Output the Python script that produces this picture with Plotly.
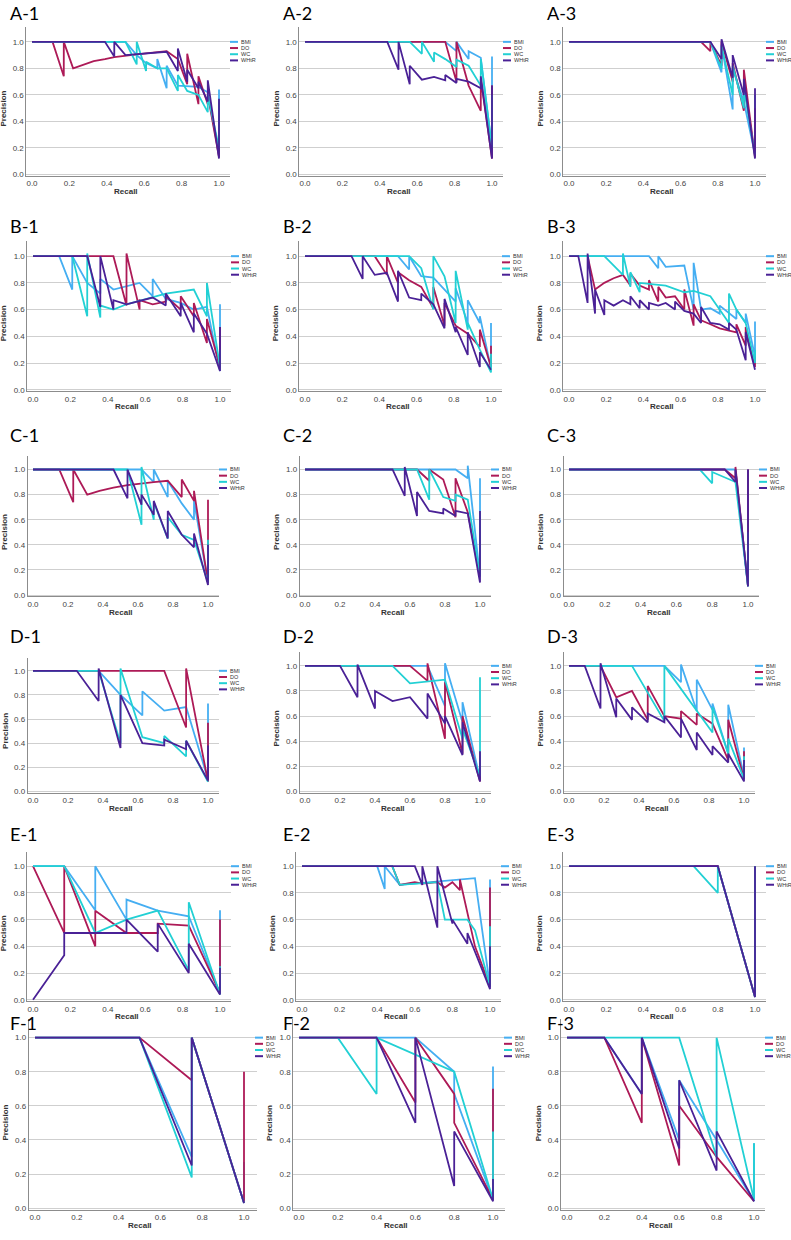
import plotly.graph_objects as go

# ---------------- data: (recall, precision) points ----------------
SERIES = ["BMI", "DO", "WC", "WHtR"]
COLORS = {"BMI": "#45AEF2", "DO": "#AD1A57", "WC": "#22D0D4", "WHtR": "#4A2196"}
TICKS = [0.0, 0.2, 0.4, 0.6, 0.8, 1.0]
TICK_TEXT = ["0.0", "0.2", "0.4", "0.6", "0.8", "1.0"]

A1 = {
    "BMI": [(0, 1), (0.5, 1), (0.56, 0.9), (0.61, 0.84), (0.67, 0.8), (0.67, 0.87), (0.72, 0.65), (0.72, 0.82),
            (0.78, 0.67), (0.89, 0.66), (0.94, 0.62), (1.0, 0.14), (1.0, 0.64)],
    "DO": [(0, 1), (0.11, 1), (0.17, 0.74), (0.17, 1.0), (0.22, 0.8), (0.28, 0.83), (0.33, 0.855), (0.39, 0.87),
           (0.44, 0.885), (0.56, 0.905), (0.72, 0.93), (0.78, 0.87), (0.83, 0.68), (0.83, 0.91), (0.89, 0.53),
           (0.89, 0.74), (0.94, 0.53), (0.94, 0.6), (1.0, 0.13), (1.0, 0.55)],
    "WC": [(0, 1), (0.5, 1), (0.56, 0.83), (0.56, 1.0), (0.61, 0.78), (0.61, 0.85), (0.67, 0.8), (0.72, 0.8),
           (0.78, 0.63), (0.78, 0.75), (0.83, 0.63), (0.89, 0.6), (0.94, 0.47), (0.94, 0.6), (1.0, 0.2), (1.0, 0.56)],
    "WHtR": [(0, 1), (0.39, 1), (0.44, 0.89), (0.44, 1.0), (0.5, 0.9), (0.61, 0.915), (0.72, 0.925), (0.78, 0.78),
             (0.78, 0.95), (0.83, 0.7), (0.83, 0.79), (0.89, 0.65), (0.89, 0.7), (0.94, 0.55), (0.94, 0.71),
             (1.0, 0.12), (1.0, 0.57)],
}
A2 = {
    "BMI": [(0, 1), (0.75, 1), (0.81, 0.93), (0.81, 1.0), (0.875, 0.87), (0.875, 0.93), (0.94, 0.88), (1.0, 0.2),
            (1.0, 0.89)],
    "DO": [(0, 1), (0.75, 1), (0.81, 0.7), (0.81, 1.0), (0.875, 0.67), (0.94, 0.48), (0.94, 0.72), (1.0, 0.12),
           (1.0, 0.67)],
    "WC": [(0, 1), (0.56, 1), (0.625, 0.91), (0.625, 1.0), (0.69, 0.85), (0.69, 0.92), (0.75, 0.87), (0.81, 0.81),
           (0.81, 0.865), (0.875, 0.82), (0.94, 0.67), (0.94, 0.87), (1.0, 0.2), (1.0, 0.6)],
    "WHtR": [(0, 1), (0.44, 1), (0.5, 0.79), (0.5, 1.0), (0.56, 0.68), (0.56, 0.82), (0.625, 0.715), (0.69, 0.735),
             (0.75, 0.71), (0.75, 0.75), (0.81, 0.69), (0.81, 0.72), (0.875, 0.7), (0.94, 0.65), (0.94, 0.74),
             (1.0, 0.12), (1.0, 0.67)],
}
A3 = {
    "BMI": [(0, 1), (0.76, 1), (0.82, 0.77), (0.82, 0.98), (0.88, 0.49), (0.88, 0.8), (0.94, 0.55), (1.0, 0.15),
            (1.0, 0.6)],
    "DO": [(0, 1), (0.71, 1), (0.76, 0.93), (0.76, 1.0), (0.82, 0.82), (0.82, 1.0), (0.88, 0.7), (0.88, 0.84),
           (0.94, 0.48), (0.94, 0.79), (1.0, 0.13), (1.0, 0.5)],
    "WC": [(0, 1), (0.76, 1), (0.82, 0.8), (0.82, 0.97), (0.88, 0.6), (0.88, 0.82), (0.94, 0.5), (0.94, 0.65),
           (1.0, 0.15)],
    "WHtR": [(0, 1), (0.76, 1), (0.82, 0.87), (0.82, 1.02), (0.88, 0.73), (0.88, 0.9), (0.94, 0.6), (0.94, 0.72),
             (1.0, 0.12), (1.0, 0.65)],
}
B1 = {
    "BMI": [(0, 1), (0.14, 1), (0.21, 0.75), (0.21, 1.0), (0.29, 0.8), (0.36, 0.72), (0.36, 0.83), (0.43, 0.75),
            (0.57, 0.8), (0.64, 0.7), (0.64, 0.83), (0.71, 0.68), (0.79, 0.65), (0.86, 0.6), (0.93, 0.62),
            (1.0, 0.14), (1.0, 0.64)],
    "DO": [(0, 1), (0.43, 1), (0.5, 0.63), (0.5, 1.02), (0.57, 0.6), (0.57, 0.67), (0.64, 0.64), (0.71, 0.66),
           (0.71, 0.7), (0.79, 0.6), (0.79, 0.7), (0.86, 0.55), (0.86, 0.65), (0.93, 0.35), (0.93, 0.53),
           (1.0, 0.17), (1.0, 0.47)],
    "WC": [(0, 1), (0.21, 1), (0.29, 0.55), (0.29, 1.02), (0.36, 0.54), (0.36, 0.63), (0.43, 0.6), (0.5, 0.64),
           (0.71, 0.72), (0.86, 0.75), (0.93, 0.55), (0.93, 0.8), (1.0, 0.17), (1.0, 0.3)],
    "WHtR": [(0, 1), (0.29, 1), (0.36, 0.62), (0.36, 1.0), (0.43, 0.6), (0.43, 0.67), (0.5, 0.64), (0.64, 0.69),
             (0.71, 0.63), (0.71, 0.72), (0.79, 0.55), (0.79, 0.65), (0.86, 0.43), (0.86, 0.57), (0.93, 0.42),
             (1.0, 0.14), (1.0, 0.47)],
}
B2 = {
    "BMI": [(0, 1), (0.5, 1), (0.56, 0.9), (0.56, 1.0), (0.625, 0.85), (0.69, 0.84), (0.81, 0.66), (0.81, 0.76),
            (0.875, 0.5), (0.875, 0.67), (0.94, 0.5), (0.94, 0.55), (1.0, 0.16), (1.0, 0.5)],
    "DO": [(0, 1), (0.375, 1), (0.44, 0.86), (0.44, 1.0), (0.5, 0.8), (0.5, 0.88), (0.56, 0.82), (0.625, 0.77),
           (0.69, 0.61), (0.69, 0.77), (0.75, 0.48), (0.75, 0.65), (0.81, 0.48), (0.875, 0.42), (0.94, 0.32),
           (0.94, 0.45), (1.0, 0.17), (1.0, 0.33)],
    "WC": [(0, 1), (0.56, 1), (0.625, 0.91), (0.69, 0.6), (0.69, 1.0), (0.75, 0.85), (0.81, 0.5), (0.81, 0.89),
           (0.875, 0.45), (0.875, 0.5), (0.94, 0.3), (1.0, 0.13), (1.0, 0.27)],
    "WHtR": [(0, 1), (0.25, 1), (0.31, 0.83), (0.31, 1.0), (0.375, 0.86), (0.44, 0.875), (0.5, 0.66), (0.5, 0.89),
             (0.56, 0.69), (0.625, 0.67), (0.625, 0.72), (0.69, 0.64), (0.75, 0.46), (0.75, 0.68), (0.81, 0.43),
             (0.81, 0.47), (0.875, 0.26), (0.875, 0.43), (0.94, 0.17), (0.94, 0.28), (1.0, 0.15)],
}
B3 = {
    "BMI": [(0, 1), (0.43, 1), (0.48, 0.91), (0.48, 1.0), (0.52, 0.92), (0.62, 0.93), (0.67, 0.6), (0.67, 0.95),
            (0.71, 0.6), (0.76, 0.61), (0.81, 0.57), (0.81, 0.63), (0.9, 0.53), (0.9, 0.6), (0.95, 0.5),
            (0.95, 0.57), (1.0, 0.25), (1.0, 0.51)],
    "DO": [(0, 1), (0.1, 1), (0.14, 0.75), (0.19, 0.8), (0.24, 0.835), (0.29, 0.86), (0.33, 0.78), (0.33, 0.87),
           (0.38, 0.78), (0.43, 0.75), (0.43, 0.82), (0.48, 0.66), (0.48, 0.77), (0.52, 0.69), (0.57, 0.7),
           (0.62, 0.6), (0.62, 0.75), (0.67, 0.48), (0.67, 0.64), (0.71, 0.52), (0.76, 0.49), (0.81, 0.46),
           (0.9, 0.43), (0.9, 0.49), (0.95, 0.33), (0.95, 0.47), (1.0, 0.17), (1.0, 0.25)],
    "WC": [(0, 1), (0.19, 1), (0.29, 0.86), (0.29, 1.02), (0.33, 0.77), (0.33, 0.88), (0.38, 0.73), (0.38, 0.8),
           (0.52, 0.78), (0.62, 0.73), (0.67, 0.74), (0.71, 0.72), (0.76, 0.7), (0.86, 0.5), (0.86, 0.72),
           (0.9, 0.6), (0.95, 0.5), (1.0, 0.2), (1.0, 0.3)],
    "WHtR": [(0, 1), (0.05, 1), (0.1, 0.65), (0.1, 1.02), (0.14, 0.57), (0.14, 0.75), (0.19, 0.56), (0.19, 0.67),
             (0.24, 0.63), (0.29, 0.67), (0.33, 0.64), (0.33, 0.7), (0.38, 0.61), (0.38, 0.67), (0.43, 0.6),
             (0.43, 0.65), (0.48, 0.63), (0.52, 0.65), (0.57, 0.6), (0.57, 0.66), (0.62, 0.59), (0.67, 0.57),
             (0.71, 0.5), (0.71, 0.62), (0.76, 0.5), (0.81, 0.49), (0.86, 0.45), (0.86, 0.5), (0.9, 0.45),
             (0.95, 0.22), (0.95, 0.43), (1.0, 0.15)],
}
C1 = {
    "BMI": [(0, 1), (0.62, 1), (0.69, 0.9), (0.69, 1.0), (0.77, 0.78), (0.77, 0.91), (0.85, 0.73), (0.92, 0.6),
            (0.92, 0.75), (1.0, 0.1), (1.0, 0.44)],
    "DO": [(0, 1), (0.15, 1), (0.23, 0.74), (0.23, 1.0), (0.31, 0.8), (0.38, 0.83), (0.46, 0.855), (0.54, 0.875),
           (0.69, 0.9), (0.77, 0.91), (0.85, 0.78), (0.85, 0.92), (0.92, 0.75), (0.92, 0.83), (1.0, 0.1),
           (1.0, 0.76)],
    "WC": [(0, 1), (0.54, 1), (0.62, 0.56), (0.62, 1.02), (0.69, 0.6), (0.69, 0.74), (0.77, 0.45), (0.77, 0.62),
           (0.85, 0.48), (0.92, 0.44), (1.0, 0.1), (1.0, 0.44)],
    "WHtR": [(0, 1), (0.46, 1), (0.54, 0.77), (0.54, 1.0), (0.62, 0.72), (0.62, 0.8), (0.69, 0.64), (0.69, 0.75),
             (0.77, 0.45), (0.77, 0.67), (0.85, 0.48), (0.92, 0.38), (0.92, 0.49), (1.0, 0.08), (1.0, 0.4)],
}
C2 = {
    "BMI": [(0, 1), (0.86, 1), (0.93, 0.93), (0.93, 1.03), (1.0, 0.15), (1.0, 0.93)],
    "DO": [(0, 1), (0.64, 1), (0.71, 0.91), (0.71, 1.0), (0.79, 0.92), (0.86, 0.62), (0.86, 0.93), (0.93, 0.66),
           (1.0, 0.15), (1.0, 0.5)],
    "WC": [(0, 1), (0.64, 1), (0.71, 0.76), (0.71, 1.0), (0.79, 0.78), (0.86, 0.75), (0.86, 0.8), (0.93, 0.76),
           (1.0, 0.15), (1.0, 0.66)],
    "WHtR": [(0, 1), (0.5, 1), (0.57, 0.79), (0.57, 1.02), (0.64, 0.63), (0.64, 0.82), (0.71, 0.67), (0.79, 0.65),
             (0.79, 0.69), (0.86, 0.63), (0.86, 0.67), (0.93, 0.65), (1.0, 0.1), (1.0, 0.67)],
}
C3 = {
    "BMI": [(0, 1), (0.93, 1), (1.0, 0.07), (1.0, 1.0)],
    "DO": [(0, 1), (0.87, 1), (0.93, 0.93), (0.93, 1.02), (1.0, 0.07), (1.0, 1.0)],
    "WC": [(0, 1), (0.73, 1), (0.8, 0.89), (0.8, 0.98), (0.93, 0.9), (1.0, 0.07), (1.0, 0.5)],
    "WHtR": [(0, 1), (0.87, 1), (0.93, 0.9), (0.93, 1.0), (1.0, 0.07), (1.0, 1.0)],
}
D1 = {
    "BMI": [(0, 1), (0.375, 1), (0.5, 0.8), (0.625, 0.63), (0.625, 0.83), (0.75, 0.67), (0.875, 0.7), (1.0, 0.1),
            (1.0, 0.73)],
    "DO": [(0, 1), (0.75, 1), (0.875, 0.53), (0.875, 1.02), (1.0, 0.08), (1.0, 0.57)],
    "WC": [(0, 1), (0.375, 1), (0.5, 0.4), (0.5, 1.02), (0.625, 0.45), (0.75, 0.4), (0.75, 0.46), (0.875, 0.29),
           (0.875, 0.42), (1.0, 0.08)],
    "WHtR": [(0, 1), (0.25, 1), (0.375, 0.75), (0.375, 1.02), (0.5, 0.36), (0.5, 0.8), (0.625, 0.4), (0.75, 0.38),
             (0.75, 0.43), (0.875, 0.35), (0.875, 0.42), (1.0, 0.09), (1.0, 0.38)],
}
D2 = {
    "BMI": [(0, 1), (0.7, 1), (0.8, 0.68), (0.8, 1.02), (0.9, 0.55), (0.9, 0.71), (1.0, 0.1), (1.0, 0.3)],
    "DO": [(0, 1), (0.6, 1), (0.7, 0.88), (0.7, 1.02), (0.8, 0.42), (0.8, 0.87), (0.9, 0.3), (0.9, 0.6),
           (1.0, 0.08), (1.0, 0.3)],
    "WC": [(0, 1), (0.5, 1), (0.6, 0.86), (0.7, 0.875), (0.8, 0.89), (0.9, 0.42), (0.9, 0.5), (1.0, 0.12),
           (1.0, 0.91)],
    "WHtR": [(0, 1), (0.2, 1), (0.3, 0.75), (0.3, 1.01), (0.4, 0.66), (0.4, 0.8), (0.5, 0.72), (0.6, 0.75),
             (0.7, 0.58), (0.7, 0.78), (0.8, 0.54), (0.8, 0.6), (0.9, 0.29), (0.9, 0.55), (1.0, 0.08), (1.0, 0.32)],
}
D3 = {
    "BMI": [(0, 1), (0.545, 1), (0.64, 0.87), (0.64, 1.01), (0.73, 0.64), (0.73, 0.89), (0.82, 0.65), (0.82, 0.7),
            (0.91, 0.3), (0.91, 0.69), (1.0, 0.12), (1.0, 0.35)],
    "DO": [(0, 1), (0.18, 1), (0.27, 0.75), (0.36, 0.8), (0.45, 0.57), (0.45, 0.84), (0.545, 0.6), (0.64, 0.58),
           (0.64, 0.64), (0.73, 0.53), (0.73, 0.62), (0.82, 0.54), (0.91, 0.25), (0.91, 0.57), (1.0, 0.1),
           (1.0, 0.32)],
    "WC": [(0, 1), (0.36, 1), (0.545, 0.56), (0.545, 1.0), (0.82, 0.47), (0.82, 0.67), (0.91, 0.3), (0.91, 0.42),
           (1.0, 0.1), (1.0, 0.28)],
    "WHtR": [(0, 1), (0.09, 1), (0.18, 0.66), (0.18, 1.02), (0.27, 0.59), (0.27, 0.74), (0.36, 0.57), (0.36, 0.67),
             (0.45, 0.55), (0.45, 0.62), (0.545, 0.55), (0.545, 0.6), (0.64, 0.43), (0.64, 0.58), (0.73, 0.33),
             (0.73, 0.47), (0.82, 0.29), (0.82, 0.36), (0.91, 0.23), (0.91, 0.3), (1.0, 0.08), (1.0, 0.25)],
}
E1 = {
    "BMI": [(0, 1), (0.167, 1), (0.333, 0.67), (0.333, 1.0), (0.5, 0.6), (0.5, 0.75), (0.667, 0.667),
            (0.833, 0.625), (1.0, 0.05), (1.0, 0.67)],
    "DO": [(0, 1), (0.167, 0.5), (0.167, 1.0), (0.333, 0.4), (0.333, 0.667), (0.5, 0.5), (0.667, 0.5),
           (0.667, 0.57), (0.833, 0.555), (1.0, 0.05), (1.0, 0.6)],
    "WC": [(0, 1), (0.167, 1), (0.333, 0.5), (0.5, 0.6), (0.667, 0.667), (0.833, 0.22), (0.833, 0.73),
           (1.0, 0.04), (1.0, 0.25)],
    "WHtR": [(0, 0), (0.167, 0.333), (0.167, 0.5), (0.333, 0.5), (0.5, 0.5), (0.5, 0.6), (0.667, 0.36),
             (0.667, 0.57), (0.833, 0.2), (0.833, 0.42), (1.0, 0.04), (1.0, 0.24)],
}
E2 = {
    "BMI": [(0, 1), (0.4, 1), (0.44, 0.83), (0.44, 1.0), (0.52, 0.86), (0.6, 0.87), (0.72, 0.88), (0.8, 0.89),
            (0.88, 0.9), (0.92, 0.91), (1.0, 0.1), (1.0, 0.9)],
    "DO": [(0, 1), (0.48, 1), (0.52, 0.86), (0.6, 0.88), (0.64, 0.87), (0.72, 0.88), (0.76, 0.84), (0.8, 0.88),
           (0.84, 0.82), (0.84, 0.9), (0.92, 0.4), (1.0, 0.1), (1.0, 0.84)],
    "WC": [(0, 1), (0.48, 1), (0.52, 0.86), (0.64, 0.87), (0.72, 0.88), (0.76, 0.6), (0.88, 0.6), (0.92, 0.52),
           (1.0, 0.1), (1.0, 0.55)],
    "WHtR": [(0, 1), (0.6, 1), (0.64, 0.86), (0.64, 1.0), (0.72, 0.54), (0.72, 1.0), (0.8, 0.57), (0.8, 0.6),
             (0.88, 0.42), (0.88, 0.5), (1.0, 0.08), (1.0, 0.4)],
}
E3 = {
    "BMI": [(0, 1), (0.8, 1), (1.0, 0.02), (1.0, 1.0)],
    "DO": [(0, 1), (0.8, 1), (1.0, 0.02), (1.0, 1.0)],
    "WC": [(0, 1), (0.67, 1), (0.8, 0.8), (0.8, 1.0), (1.0, 0.02), (1.0, 1.0)],
    "WHtR": [(0, 1), (0.8, 1), (1.0, 0.02), (1.0, 1.0)],
}
F1 = {
    "BMI": [(0, 1), (0.5, 1), (0.75, 0.3), (0.75, 1.0), (1.0, 0.03), (1.0, 0.27)],
    "DO": [(0, 1), (0.5, 1), (0.75, 0.75), (0.75, 1.0), (1.0, 0.03), (1.0, 0.8)],
    "WC": [(0, 1), (0.5, 1), (0.75, 0.18), (0.75, 1.0), (1.0, 0.03)],
    "WHtR": [(0, 1), (0.5, 1), (0.75, 0.25), (0.75, 1.0), (1.0, 0.03)],
}
F2 = {
    "BMI": [(0, 1), (0.6, 1), (0.8, 0.8), (0.8, 0.67), (1.0, 0.05), (1.0, 0.83)],
    "DO": [(0, 1), (0.4, 1), (0.6, 0.62), (0.6, 1.0), (0.8, 0.67), (0.8, 0.5), (1.0, 0.05), (1.0, 0.7)],
    "WC": [(0, 1), (0.2, 1), (0.4, 0.67), (0.4, 1.0), (0.8, 0.8), (1.0, 0.05), (1.0, 0.45)],
    "WHtR": [(0, 1), (0.4, 1), (0.6, 0.5), (0.6, 1.0), (0.8, 0.13), (0.8, 0.45), (1.0, 0.04), (1.0, 0.17)],
}
F3 = {
    "BMI": [(0, 1), (0.2, 1), (0.4, 0.67), (0.4, 1.0), (0.6, 0.4), (0.6, 0.75), (0.8, 0.4), (1.0, 0.04),
            (1.0, 0.38)],
    "DO": [(0, 1), (0.2, 1), (0.4, 0.5), (0.4, 1.0), (0.6, 0.25), (0.6, 0.6), (0.8, 0.3), (1.0, 0.04)],
    "WC": [(0, 1), (0.6, 1), (0.8, 0.3), (0.8, 1.0), (1.0, 0.05), (1.0, 0.38)],
    "WHtR": [(0, 1), (0.2, 1), (0.4, 0.67), (0.4, 1.0), (0.6, 0.35), (0.6, 0.75), (0.8, 0.22), (0.8, 0.45),
             (1.0, 0.04)],
}

PANELS = [("A-1", A1), ("A-2", A2), ("A-3", A3), ("B-1", B1), ("B-2", B2), ("B-3", B3),
          ("C-1", C1), ("C-2", C2), ("C-3", C3), ("D-1", D1), ("D-2", D2), ("D-3", D3),
          ("E-1", E1), ("E-2", E2), ("E-3", E3), ("F-1", F1), ("F-2", F2), ("F-3", F3)]

# ---------------- layout calibration (pixel positions of recall 0/1 and precision 0/1) ----------------
W, H = 791, 1240
GEOM = {
    "A-1": (32, 219, 175, 42), "A-2": (305, 492, 175, 42), "A-3": (569, 755, 175, 42),
    "B-1": (33, 220, 391, 257), "B-2": (305, 491, 391, 257), "B-3": (569, 755, 391, 257),
    "C-1": (33, 208, 597, 471), "C-2": (305, 480, 597, 471), "C-3": (569, 748, 597, 471),
    "D-1": (33, 208, 794, 673), "D-2": (305, 480, 794, 668), "D-3": (569, 744, 794, 668),
    "E-1": (33, 220, 1003, 869), "E-2": (302, 490, 1003, 869), "E-3": (569, 755, 1003, 869),
    "F-1": (35, 244, 1212, 1041), "F-2": (299, 493, 1212, 1041), "F-3": (567, 754, 1212, 1041),
}
TITLE_Y = {"A": 13, "B": 227, "C": 436, "D": 638, "E": 837, "F": 1026}
TITLE_X = {"1": 8, "2": 281, "3": 545}
XR = [-0.03, 1.06]
YR = [-0.01, 1.11]

TICK_FONT = dict(family="Liberation Sans, Arial, sans-serif", size=8, color="#444444")
AX_FONT = dict(family="Liberation Sans, Arial, sans-serif", size=8, color="#333333")
LEG_FONT = dict(family="Liberation Sans, Arial, sans-serif", size=5.5, color="#333333")

fig = go.Figure()
layout = {}
annotations = []
shapes = []


def px_x(v):
    return v / W


def px_y(v):
    return 1 - v / H


for i, (label, data) in enumerate(PANELS):
    k = i + 1
    suf = "" if k == 1 else str(k)
    xa, ya = "x" + suf, "y" + suf
    x0, x1, y0, y1 = GEOM[label]
    sx, sy = x1 - x0, y0 - y1
    xd = [px_x(x0 + XR[0] * sx), px_x(x0 + XR[1] * sx)]
    yd = [px_y(y0 - YR[0] * sy), px_y(y0 - YR[1] * sy)]

    for name in SERIES:
        pts = data[name]
        fig.add_trace(go.Scatter(
            x=[p[0] for p in pts], y=[p[1] for p in pts], mode="lines", name=name,
            line=dict(color=COLORS[name], width=1.8), xaxis=xa, yaxis=ya,
            showlegend=False, hoverinfo="skip"))

    layout["xaxis" + suf] = dict(
        domain=xd, range=XR, anchor=ya, tickvals=TICKS, ticktext=TICK_TEXT, showgrid=False,
        zeroline=False, showline=True, linecolor="#8c8c8c", linewidth=1, ticks="",
        tickfont=TICK_FONT, fixedrange=True)
    layout["yaxis" + suf] = dict(
        domain=yd, range=YR, anchor=xa, tickvals=TICKS, ticktext=TICK_TEXT, showgrid=True,
        gridcolor="#cfcfcf", gridwidth=1.3, zeroline=False, showline=True, linecolor="#8c8c8c",
        linewidth=1, ticks="", tickfont=TICK_FONT, fixedrange=True)

    # panel label
    annotations.append(dict(text=label, xref="paper", yref="paper", x=px_x(TITLE_X[label[2]]),
                            y=px_y(TITLE_Y[label[0]]), xanchor="left", yanchor="middle", showarrow=False,
                            font=dict(family="Lato, Open Sans, sans-serif", size=18, color="#000000")))
    # axis titles
    annotations.append(dict(text="<b>Recall</b>", xref="paper", yref="paper", x=px_x((x0 + x1) / 2),
                            y=px_y(y0 + 17), xanchor="center", yanchor="middle", showarrow=False, font=AX_FONT))
    annotations.append(dict(text="<b>Precision</b>", xref="paper", yref="paper",
                            x=px_x(x0 + XR[0] * sx - 23), y=px_y((y0 + y1) / 2), xanchor="center",
                            yanchor="middle", textangle=-90, showarrow=False, font=AX_FONT))
    # legend
    for j, name in enumerate(SERIES):
        ly = y1 + j * 6.2
        shapes.append(dict(type="line", xref="paper", yref="paper", x0=px_x(x1 + 11), x1=px_x(x1 + 19),
                           y0=px_y(ly), y1=px_y(ly), line=dict(color=COLORS[name], width=2)))
        annotations.append(dict(text=name, xref="paper", yref="paper", x=px_x(x1 + 20), y=px_y(ly),
                                xanchor="left", yanchor="middle", showarrow=False, font=LEG_FONT))

fig.update_layout(
    width=W, height=H, margin=dict(l=0, r=0, t=0, b=0), paper_bgcolor="white", plot_bgcolor="white",
    showlegend=False, annotations=annotations, shapes=shapes, **layout)

fig.write_html("out.html")
